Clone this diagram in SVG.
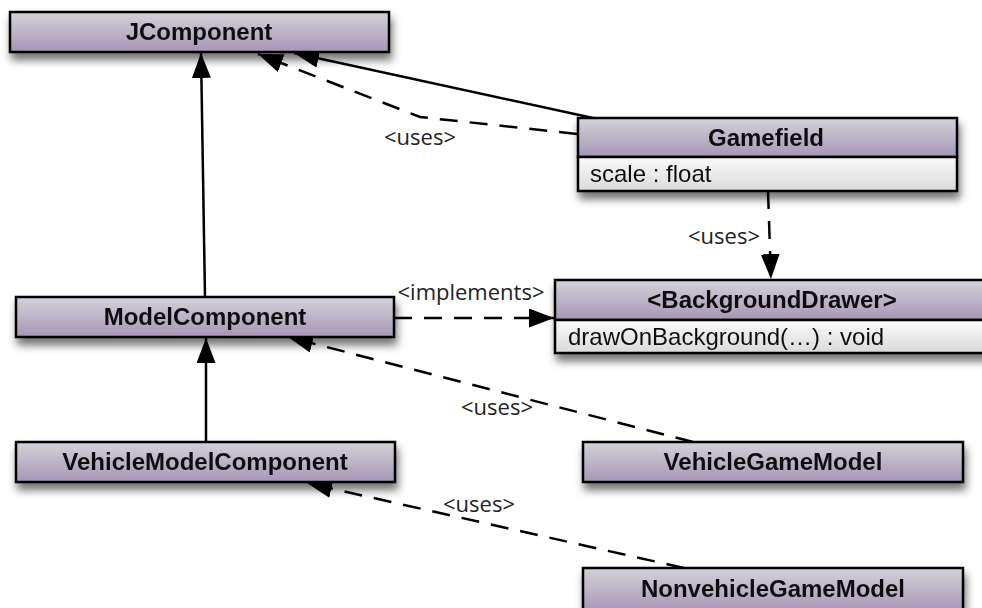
<svg xmlns="http://www.w3.org/2000/svg" width="982" height="608" viewBox="0 0 982 608">
<style>
.hdr{fill:url(#hg);stroke:#000;stroke-width:2.5}
.att{fill:url(#ag);stroke:#000;stroke-width:2.5}
.tb{font-family:"Liberation Sans",Arial,sans-serif;font-weight:bold;font-size:24px;fill:#111;text-anchor:middle}
.tn{font-family:"Liberation Sans",Arial,sans-serif;font-size:24px;fill:#111}
.lbl{font-family:"Open Sans","Noto Sans",sans-serif;font-size:22px;fill:#222}
.solid{fill:none;stroke:#000;stroke-width:2.5;marker-end:url(#ah)}
.dash{fill:none;stroke:#000;stroke-width:2.5;stroke-dasharray:18 12;marker-end:url(#ah)}
</style>
<defs>
<linearGradient id="hg" x1="0" y1="0" x2="0" y2="1">
<stop offset="0" stop-color="#d3d2d7"/>
<stop offset="1" stop-color="#a696b6"/>
</linearGradient>
<linearGradient id="ag" x1="0" y1="0" x2="0" y2="1">
<stop offset="0" stop-color="#fafafa"/>
<stop offset="1" stop-color="#dadada"/>
</linearGradient>
<filter id="sh" x="-10%" y="-30%" width="120%" height="180%">
<feDropShadow dx="2" dy="7" stdDeviation="4" flood-color="#000" flood-opacity="0.55"/>
</filter>
<marker id="ah" markerUnits="userSpaceOnUse" markerWidth="26" markerHeight="20" refX="25" refY="9.5" orient="auto">
<path d="M0,0 L25,9.5 L0,19 z" fill="#000"/>
</marker>
</defs>

<g id="connectors">
<path class="solid" d="M205,297 L201,53"/>
<path class="solid" d="M206,442 L206,338"/>
<path class="solid" d="M593,118 L294,53"/>
<path class="dash" d="M577,134 L420,117 L258,54"/>
<text class="lbl" x="420" y="145" text-anchor="middle">&lt;uses&gt;</text>
<path class="dash" d="M768,191 L771,279"/>
<text class="lbl" x="760" y="244" text-anchor="end">&lt;uses&gt;</text>
<path class="dash" d="M394,318 L554,318"/>
<text class="lbl" x="471" y="300" text-anchor="middle">&lt;implements&gt;</text>
<path class="dash" d="M693,442 L288,337"/>
<text class="lbl" x="497" y="415" text-anchor="middle">&lt;uses&gt;</text>
<path class="dash" d="M684,568 L307,483"/>
<text class="lbl" x="479" y="512" text-anchor="middle">&lt;uses&gt;</text>
</g>

<g id="JComponent" filter="url(#sh)">
<rect class="hdr" x="10" y="12" width="379" height="40"/>
<text class="tb" x="199" y="40">JComponent</text>
</g>

<g id="Gamefield" filter="url(#sh)">
<rect class="hdr" x="578" y="118" width="379" height="39"/>
<rect class="att" x="578" y="157" width="379" height="34"/>
<text class="tb" x="766" y="146">Gamefield</text>
<text class="tn" x="590" y="182">scale : float</text>
</g>

<g id="BackgroundDrawer" filter="url(#sh)">
<rect class="hdr" x="555" y="280" width="440" height="40"/>
<rect class="att" x="555" y="320" width="440" height="33"/>
<text class="tb" x="772" y="308">&lt;BackgroundDrawer&gt;</text>
<text class="tn" x="568" y="345">drawOnBackground(…) : void</text>
</g>

<g id="ModelComponent" filter="url(#sh)">
<rect class="hdr" x="16" y="297" width="378" height="40"/>
<text class="tb" x="205" y="325">ModelComponent</text>
</g>

<g id="VehicleModelComponent" filter="url(#sh)">
<rect class="hdr" x="16" y="442" width="379" height="40"/>
<text class="tb" x="205" y="470">VehicleModelComponent</text>
</g>

<g id="VehicleGameModel" filter="url(#sh)">
<rect class="hdr" x="583" y="442" width="380" height="40"/>
<text class="tb" x="773" y="470">VehicleGameModel</text>
</g>

<g id="NonvehicleGameModel" filter="url(#sh)">
<rect class="hdr" x="583" y="568" width="380" height="44"/>
<text class="tb" x="773" y="597">NonvehicleGameModel</text>
</g>
</svg>
